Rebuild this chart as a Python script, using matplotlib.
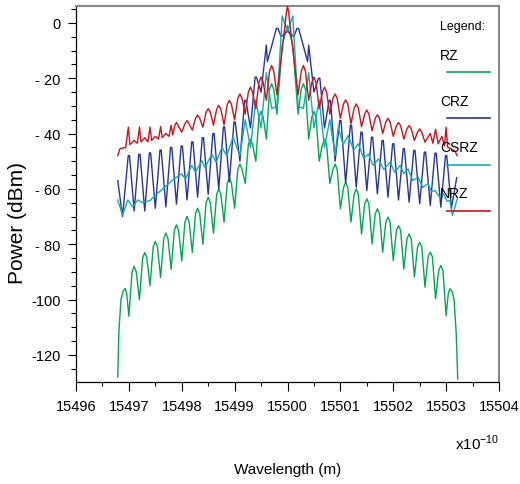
import numpy as np
import matplotlib
matplotlib.use('Agg')
import matplotlib.pyplot as plt
from matplotlib.ticker import MultipleLocator, FuncFormatter

plt.rcParams['font.family'] = ['Liberation Sans', 'DejaVu Sans']

CENTER = 15500  # wavelength centre, x10^-10 m

# --- NRZ (red): offset from centre, power (dBm) ---
nrz_dx = [-3.21, -3.17, -3.06, -3.01, -2.98, -2.9, -2.84, -2.80, -2.77, -2.7, -2.64, -2.60, -2.57,
          -2.5, -2.44, -2.40, -2.37, -2.3, -2.24, -2.2, -2.17, -2.13, -2.1, -2.07, -2.0,
          -1.94, -1.9, -1.86, -1.8, -1.74, -1.7, -1.66, -1.6, -1.54, -1.5, -1.46, -1.4,
          -1.34, -1.3, -1.26, -1.2, -1.14, -1.1, -1.06, -1.0, -0.94, -0.9, -0.86, -0.8,
          -0.74, -0.7, -0.66, -0.6, -0.54, -0.5, -0.46, -0.4, -0.34, -0.3, -0.26, -0.2,
          -0.12, -0.06, -0.02, 0.0, 0.02, 0.06, 0.12,
          0.2, 0.26, 0.3, 0.34, 0.4, 0.46, 0.5, 0.54, 0.6, 0.66, 0.7, 0.74, 0.8, 0.86, 0.9, 0.94,
          1.0, 1.06, 1.1, 1.14, 1.2, 1.26, 1.3, 1.34, 1.4, 1.46, 1.5, 1.54, 1.6, 1.66, 1.7, 1.74,
          1.8, 1.86, 1.9, 1.94, 2.0, 2.06, 2.1, 2.14, 2.2, 2.26, 2.3, 2.34, 2.4, 2.46, 2.5, 2.54,
          2.6, 2.7, 2.75, 2.8, 2.85, 2.92, 2.97, 3.0, 3.03, 3.1, 3.17, 3.21]
nrz_db = [-48, -45.5, -45, -37.7, -44, -42.5, -43.5, -37.7, -43, -41.5, -43, -37.7, -42.5,
          -41, -42, -37.5, -41.5, -40, -41, -37, -40.5, -37, -36, -37, -39.5,
          -36.5, -35.3, -36.5, -38.8, -34.5, -33.3, -34.5, -37.7, -32.3, -31, -32.3, -37,
          -31.2, -29.8, -31.2, -36.9, -29.5, -28, -29.5, -35, -27.3, -25.7, -27.3, -33,
          -25, -23.2, -25, -31, -21.5, -19.6, -21.5, -28, -17.5, -15.4, -17.5, -26,
          -13, -3, 4, 6, 4, -3, -13,
          -26, -17.5, -15.4, -17.5, -28, -21.5, -19.6, -21.5, -31, -25, -23.2, -25, -33, -27.3, -25.7, -27.3,
          -34.5, -29.3, -27.8, -29.3, -36.5, -30.8, -29.3, -30.8, -37.5, -33, -31.5, -33, -39, -34.5, -33.2, -34.5,
          -40, -35.8, -34.5, -35.8, -41, -37.2, -36, -37.2, -42, -38.3, -37.1, -38.3, -42.5, -39.5, -38.3, -39.5,
          -43.1, -40, -43.5, -38.5, -43.7, -41, -44.5, -37.7, -45, -45.5, -46.5, -48]

# --- RZ (green) ---
rz_dx = [-3.21, -3.19, -3.15, -3.11, -3.07, -3.04, -3.0, -2.94, -2.9, -2.86, -2.8,
         -2.74, -2.7, -2.66, -2.6, -2.54, -2.5, -2.46, -2.4, -2.34, -2.3, -2.26, -2.2,
         -2.14, -2.1, -2.06, -2.0, -1.94, -1.9, -1.86, -1.8, -1.74, -1.7, -1.66, -1.6,
         -1.54, -1.5, -1.46, -1.4, -1.34, -1.3, -1.26, -1.2, -1.14, -1.1, -1.06, -1.0,
         -0.94, -0.9, -0.86, -0.8, -0.74, -0.7, -0.66, -0.6, -0.54, -0.5, -0.46, -0.4,
         -0.34, -0.3, -0.26, -0.2, -0.1, 0.0, 0.1, 0.2, 0.26, 0.3, 0.34, 0.4,
         0.46, 0.5, 0.54, 0.6, 0.66, 0.7, 0.74, 0.8, 0.86, 0.9, 0.94,
         1.0, 1.06, 1.1, 1.14, 1.2, 1.26, 1.3, 1.34, 1.4, 1.46, 1.5, 1.54, 1.6, 1.66, 1.7, 1.74,
         1.8, 1.86, 1.9, 1.94, 2.0, 2.06, 2.1, 2.14, 2.2, 2.26, 2.3, 2.34, 2.4, 2.46, 2.5, 2.54,
         2.6, 2.66, 2.7, 2.74, 2.8, 2.86, 2.9, 2.94, 3.0, 3.04, 3.07, 3.11, 3.15, 3.19, 3.22]
rz_db = [-128, -112, -100, -97, -96, -98, -106, -90, -88, -90, -100,
         -85, -83, -85, -95, -81, -79, -81, -92, -78, -76, -78, -89,
         -75, -73, -75, -86, -72, -70, -72, -83, -69, -67, -69, -80,
         -65, -63, -65, -76, -62, -60, -62, -72, -58, -56, -58, -67,
         -53, -51, -53, -58, -44, -42, -44, -50, -34, -32, -34, -42,
         -24, -22, -24, -33, -8, -1, -8, -33, -24, -22, -24, -42,
         -34, -32, -34, -50, -44, -42, -44, -58, -53, -51, -53,
         -67.2, -59.5, -57.6, -59.5, -72, -62, -60, -62, -76.3, -65.5, -63.6, -65.5, -79.9, -69, -67.2, -69,
         -82.9, -72, -70.2, -72, -85.9, -75, -73.3, -75, -89, -78, -76.3, -78, -91.9, -81, -79.3, -81,
         -95.5, -84.5, -82.9, -84.5, -99.7, -89.5, -87.7, -89.5, -105.8, -98, -96.1, -97, -100, -112, -128.7]

# --- CRZ (blue) ---
crz_dx = [-3.21, -3.12, -3.012, -2.988, -2.9, -2.812, -2.788, -2.7, -2.612, -2.588, -2.5,
          -2.412, -2.388, -2.3, -2.212, -2.188, -2.1, -2.012, -1.988, -1.9, -1.812, -1.788, -1.7,
          -1.612, -1.588, -1.5, -1.412, -1.388, -1.3, -1.212, -1.188, -1.1, -1.012, -0.988, -0.9,
          -0.812, -0.788, -0.7, -0.612, -0.588, -0.5, -0.4, -0.38, -0.21, -0.18, -0.12, 0.0,
          0.12, 0.18, 0.21, 0.38, 0.4, 0.5, 0.588, 0.612, 0.7, 0.788, 0.812, 0.9,
          0.988, 1.012, 1.1, 1.188, 1.212, 1.3, 1.388, 1.412, 1.5, 1.588, 1.612, 1.7,
          1.788, 1.812, 1.9, 1.988, 2.012, 2.1, 2.188, 2.212, 2.3, 2.388, 2.412, 2.5,
          2.588, 2.612, 2.7, 2.788, 2.812, 2.9, 2.988, 3.012, 3.1, 3.2]
crz_db = [-57, -70, -48, -48, -68, -47.5, -47.5, -68, -47, -47, -67,
          -46, -46, -66.5, -45, -45, -65.5, -44.5, -44.5, -64, -43, -43, -63,
          -41.5, -41.5, -62, -40, -40, -60, -37.6, -37.6, -57.5, -35.8, -35.8, -50,
          -28, -28, -38, -19.6, -19.6, -25, -8, -14, -2, -2, -5, -3,
          -5, -2, -2, -14, -8, -25, -20, -20, -38, -28, -28, -50,
          -35.3, -35.3, -58, -37, -37, -59.4, -39.5, -39.5, -60.6, -41.3, -41.3, -61.8,
          -42.5, -42.5, -63, -43.7, -43.7, -64, -45.5, -45.5, -64.8, -46.1, -46.1, -65.4,
          -46.7, -46.7, -66, -47.1, -47.1, -66.6, -48, -48, -67, -56]

# --- CSRZ (cyan) ---
csrz_dx = [-3.21, -3.12, -3.02, -2.93, -2.83, -2.74, -2.65, -2.6, -2.45, -2.3, -2.15, -2.0, -1.93,
           -1.81, -1.74, -1.62, -1.56, -1.43, -1.35, -1.24, -1.15, -1.03, -0.9, -0.8, -0.7, -0.6,
           -0.5, -0.4, -0.3, -0.2, -0.1, 0.0, 0.1, 0.2, 0.3, 0.4, 0.5, 0.6, 0.7, 0.8, 0.9, 0.96,
           1.05, 1.15, 1.25, 1.34, 1.44, 1.53, 1.62, 1.72, 1.82, 1.94, 2.03, 2.13, 2.2, 2.28, 2.37,
           2.47, 2.56, 2.66, 2.72, 2.79, 2.88, 2.95, 3.02, 3.07, 3.12, 3.21]
csrz_db = [-64, -69.5, -64, -66.5, -64, -65, -64.5, -64.2, -61.5, -59, -56.4, -54.6, -56.5,
           -51.5, -54, -49.8, -52.4, -47.4, -50.4, -45, -48, -41.3, -48, -35, -45, -28,
           -38, -18, -31, -30, 2.5, -3, 2.5, -30, -31, -18, -38, -28, -45, -35, -48, -37.7,
           -44, -40.7, -46, -43.7, -49, -47.4, -51.5, -49.2, -53, -50.4, -54, -51.5, -54.5, -52.8, -57,
           -55.8, -59.5, -58, -61, -60.6, -63, -61.8, -64.5, -64.2, -69.6, -63.6]

series = [
    ('RZ', rz_dx, rz_db, '#00a850'),
    ('CRZ', crz_dx, crz_db, '#27359a'),
    ('CSRZ', csrz_dx, csrz_db, '#17aaae'),
    ('NRZ', nrz_dx, nrz_db, '#c8141e'),
]

W, H = 520, 485
fig = plt.figure(figsize=(W / 100, H / 100), dpi=100)
ax = fig.add_axes([76 / W, 1 - 383 / H, 423 / W, 376 / H])

for i, (name, dx, db, col) in enumerate(series):
    ax.plot(CENTER + np.array(dx), db, color=col, linewidth=1.0, zorder=2 + i)

ax.set_xlim(15496, 15504)
ax.set_ylim(-129.8, 6.1)

ax.xaxis.set_major_locator(MultipleLocator(1))
ax.xaxis.set_minor_locator(MultipleLocator(0.5))
ax.yaxis.set_major_locator(MultipleLocator(20))
ax.yaxis.set_minor_locator(MultipleLocator(5))
ax.xaxis.set_major_formatter(FuncFormatter(lambda v, p: '%d' % round(v)))


def ylab(v, p):
    v = int(round(v))
    if v == 0:
        return '0'
    if abs(v) < 100:
        return '- %d' % abs(v)
    return '-%d' % abs(v)


ax.yaxis.set_major_formatter(FuncFormatter(ylab))
ax.tick_params(axis='x', which='major', direction='out', length=6.5, width=0.8, labelsize=10.5, pad=6)
ax.tick_params(axis='x', which='minor', direction='out', length=3, width=0.8)
ax.tick_params(axis='y', which='major', direction='out', length=6, width=0.8, labelsize=10.5, pad=5)
ax.tick_params(axis='y', which='minor', direction='out', length=3.5, width=0.8)

for s in ['top', 'right']:
    ax.spines[s].set_color('#888888')
    ax.spines[s].set_linewidth(1.5)
for s in ['left', 'bottom']:
    ax.spines[s].set_color('black')
    ax.spines[s].set_linewidth(0.9)

# axis labels
fig.text(287.5 / W, 1 - 470 / H, 'Wavelength (m)', ha='center', va='center', fontsize=11)
fig.text(18 / W, 1 - 223 / H, 'Power (dBm)', ha='center', va='center', rotation=90, fontsize=15)
fig.text(499 / W, 1 - 450 / H, r'x10$^{\mathregular{-10}}$', ha='right', va='baseline', fontsize=11)

# custom legend
def axfrac(px, py):
    return (px - 76) / 423, (383 - py) / 376

tx, ty = axfrac(440, 27)
ax.text(tx, ty, 'Legend:', transform=ax.transAxes, fontsize=9, ha='left', va='center')
legend_rows = [('RZ', 56, 73), ('CRZ', 102, 119), ('CSRZ', 148, 166), ('NRZ', 194, 212)]
colors = {name: col for name, dx, db, col in series}
for name, label_y, line_y in legend_rows:
    tx, ty = axfrac(440, label_y)
    ax.text(tx, ty, name, transform=ax.transAxes, fontsize=10, ha='left', va='center', zorder=10)
    x0, yl = axfrac(447, line_y)
    x1, _ = axfrac(490, line_y)
    ax.plot([x0, x1], [yl, yl], transform=ax.transAxes, color=colors[name], linewidth=1.2, zorder=10)

fig.savefig('out.png', dpi=100)
